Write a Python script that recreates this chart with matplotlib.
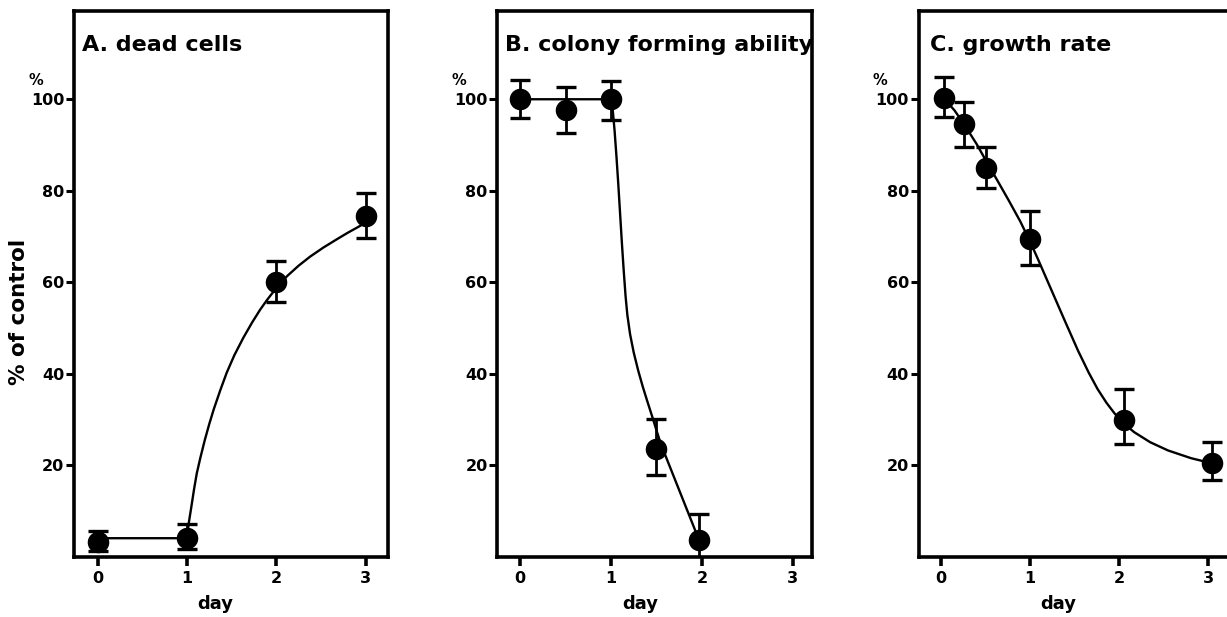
import matplotlib
matplotlib.use("Agg")
import matplotlib.pyplot as plt
from matplotlib.transforms import blended_transform_factory

plt.rcParams['font.family'] = ['DejaVu Sans']
plt.rcParams['font.weight'] = 'bold'

# ---------------- data ----------------
# Panel A: dead cells
a_x = [0, 1, 2, 3]
a_y = [3.2, 4.0, 60.0, 74.5]
a_hi = [5.6, 7.1, 64.7, 79.4]
a_lo = [1.2, 1.6, 55.6, 69.6]
a_curve_x = [0, 1.0, 1.02, 1.05, 1.08, 1.11, 1.15, 1.20, 1.25, 1.30, 1.37,
             1.445, 1.53, 1.63, 1.73, 1.82, 1.90, 1.98, 2.12, 2.25, 2.38,
             2.53, 2.68, 2.80, 2.92, 2.99]
a_curve_y = [4.0, 4.0, 7.3, 11.0, 14.8, 18.2, 21.6, 25.5, 29.0, 32.2, 36.2,
             40.2, 44.0, 47.8, 51.2, 54.0, 56.2, 58.2, 61.3, 63.6, 65.6,
             67.6, 69.4, 70.8, 72.1, 72.9]

# Panel B: colony forming ability
b_x = [0, 0.5, 1, 1.5, 1.97]
b_y = [100, 97.7, 100, 23.6, 3.5]
b_hi = [104.3, 102.6, 103.9, 30.0, 9.2]
b_lo = [95.9, 92.7, 95.5, 17.8, -2.0]
b_curve_x = [0, 1.0, 1.02, 1.04, 1.06, 1.08, 1.10, 1.12, 1.14, 1.16, 1.18,
             1.21, 1.25, 1.30, 1.35, 1.40, 1.45, 1.50, 1.55, 1.97]
b_curve_y = [100, 100, 97.5, 93.0, 87.5, 81.5, 75.0, 68.5, 62.5, 57.0, 52.8,
             48.6, 44.6, 40.6, 37.1, 33.9, 30.8, 27.6, 24.5, 3.5]

# Panel C: growth rate
c_x = [0.03, 0.26, 0.51, 1.0, 2.06, 3.04]
c_y = [100.2, 94.6, 85.0, 69.5, 29.9, 20.4]
c_hi = [104.8, 99.3, 89.6, 75.6, 36.6, 25.0]
c_lo = [96.1, 89.6, 80.5, 63.7, 24.7, 16.7]
c_curve_x = [0.03, 0.15, 0.26, 0.40, 0.51, 0.64, 0.76, 0.89, 1.0, 1.09, 1.24,
             1.39, 1.54, 1.66, 1.76, 1.86, 1.95, 2.06, 2.17, 2.35, 2.55, 2.81,
             3.04]
c_curve_y = [100.2, 97.6, 94.5, 90.2, 86.4, 82.0, 77.9, 73.3, 68.9, 65.0, 58.3,
             51.6, 45.0, 40.2, 36.6, 33.6, 31.3, 29.0, 27.2, 25.0, 23.2, 21.5,
             20.4]

titles = ["A. dead cells", "B. colony forming ability", "C. growth rate"]
x_ticks = [0, 1, 2, 3]
y_ticks = [20, 40, 60, 80, 100]
y_ticklabels = ["20", "40", "60", "80", "100"]
x_label = "day"
y_label = "% of control"
unit_label = "%"

# ---------------- layout ----------------
W, H = 1227, 617
fig = plt.figure(figsize=(W / 100, H / 100), dpi=100)

def px_axes(left, right, top=11, bottom=556.5):
    return [left / W, (H - bottom) / H, (right - left) / W, (bottom - top) / H]

axA = fig.add_axes(px_axes(74, 388))
axB = fig.add_axes(px_axes(497.3, 812))
axC = fig.add_axes(px_axes(918.7, 1232))

panels = [
    (axA, a_x, a_y, a_lo, a_hi, a_curve_x, a_curve_y, (-0.265, 3.251), 0.025),
    (axB, b_x, b_y, b_lo, b_hi, b_curve_x, b_curve_y, (-0.25, 3.21), 0.026),
    (axC, c_x, c_y, c_lo, c_hi, c_curve_x, c_curve_y, (-0.251, 3.27), 0.035),
]

for i, (ax, x, y, lo, hi, cx, cy, xl, tx) in enumerate(panels):
    ax.plot(cx, cy, color='black', lw=1.7, solid_capstyle='round',
            solid_joinstyle='round', zorder=2)
    yerr = [[yy - l for yy, l in zip(y, lo)], [h - yy for yy, h in zip(y, hi)]]
    ax.errorbar(x, y, yerr=yerr, fmt='o', color='black', ms=14.5,
                elinewidth=2.0, capsize=7.5, capthick=2.4, zorder=3)
    ax.set_xlim(*xl)
    ax.set_ylim(0, 119.3)
    ax.set_xticks(x_ticks)
    ax.set_xticklabels([str(t) for t in x_ticks])
    ax.set_yticks(y_ticks)
    ax.set_yticklabels(y_ticklabels)
    ax.tick_params(axis='x', direction='out', length=6.5, width=2.6,
                   pad=4, labelsize=11.5)
    ax.tick_params(axis='y', direction='out', length=5.5, width=2.2,
                   pad=1.5, labelsize=11.5)
    for s in ax.spines.values():
        s.set_linewidth(2.6)
    ax.text(tx, 110.5, titles[i],
            transform=blended_transform_factory(ax.transAxes, ax.transData),
            ha='left', va='baseline', fontsize=16, fontweight='bold', clip_on=False)
    ax.text(-0.146, 104, unit_label,
            transform=blended_transform_factory(ax.transAxes, ax.transData),
            ha='left', va='center', fontsize=10.5, fontweight='bold')
    ax.text(1.32, -0.087, x_label,
            transform=blended_transform_factory(ax.transData, ax.transAxes),
            ha='center', va='center', fontsize=13, fontweight='bold')

axA.text(-0.175, 53.4, y_label,
         transform=blended_transform_factory(axA.transAxes, axA.transData),
         ha='center', va='center', rotation=90, fontsize=15.5, fontweight='bold')

fig.savefig("out.png", dpi=100)
